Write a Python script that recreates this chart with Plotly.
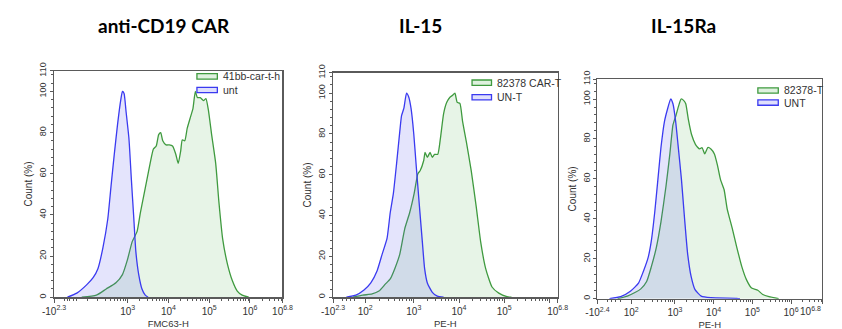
import math
import plotly.graph_objects as go

# The page body keeps its default 8px margin, so the figure is 16px narrower than the
# window and all geometry below is given in window pixels, shifted by that margin.
OFF = 8
W, H = 842 - 2 * OFF, 329

panel_titles = ["anti-CD19 CAR", "IL-15", "IL-15Ra"]
x_titles = ["FMC63-H", "PE-H", "PE-H"]
series_names = [("41bb-car-t-h", "unt"), ("82378 CAR-T", "UN-T"), ("82378-T", "UNT")]

# x in decade units of the display scale, y = Count (%)
car1_x = [1.87, 2.23, 2.47, 2.71, 2.87, 2.99, 3.11, 3.23, 3.31, 3.39, 3.47, 3.55, 3.63, 3.70, 3.76,
          3.81, 3.86, 3.94, 4.02, 4.10, 4.18, 4.24, 4.30, 4.34, 4.40, 4.46, 4.54, 4.60, 4.66, 4.71,
          4.78, 4.86, 4.92, 4.98, 5.06, 5.16, 5.24, 5.33, 5.45, 5.57, 5.69, 5.81, 5.97]
car1_y = [0, 1, 4, 7, 11, 18, 27, 32, 41, 49, 57, 65, 72, 73.5, 79,
          80, 76, 74, 74, 73.5, 69.5, 65, 71, 76.5, 76, 82, 87.5, 91.5, 100, 97,
          97, 95.5, 96.5, 91, 79, 65, 46, 28.5, 16, 8, 3, 1, 0]
unt1_x = [1.52, 1.75, 1.99, 2.15, 2.27, 2.39, 2.51, 2.59, 2.67, 2.75, 2.83, 2.87, 2.91, 2.96, 3.03,
          3.09, 3.15, 3.20, 3.27, 3.35, 3.43, 3.50]
unt1_y = [0, 2, 6, 9.5, 14, 24, 38, 54, 69.5, 84, 96, 100, 99, 90, 77, 57, 38, 22, 11, 4, 1, 0]

car2_x = [1.65, 1.87, 2.08, 2.23, 2.37, 2.48, 2.58, 2.69, 2.80, 2.91, 3.01, 3.09, 3.14, 3.22, 3.25,
          3.30, 3.36, 3.41, 3.46, 3.53, 3.59, 3.66, 3.73, 3.80, 3.86, 3.91, 3.96, 4.02, 4.08, 4.16,
          4.27, 4.38, 4.48, 4.59, 4.73, 4.88, 5.06, 5.16]
car2_y = [0, 1, 1.6, 3, 6.4, 9, 14, 21, 33.5, 41.5, 51, 60.5, 62, 67, 71,
          68.5, 71, 68.5, 70, 70, 78, 90, 95.5, 98, 99, 100, 95.5, 95, 86, 76.5,
          62, 44.5, 27, 14, 5, 2, 0.3, 0]
unt2_x = [1.51, 1.72, 1.90, 2.05, 2.19, 2.30, 2.41, 2.48, 2.55, 2.62, 2.69, 2.73, 2.78, 2.84, 2.89,
          2.94, 3.00, 3.05, 3.12, 3.19, 3.24, 3.30, 3.41, 3.52, 3.66]
unt2_y = [0, 1, 3.5, 7, 13, 21, 29, 41.5, 51, 65.5, 81, 89, 92.5, 100, 98,
          92.5, 80, 65.5, 46, 27, 14, 7, 2.4, 0.5, 0]

car3_x = [1.52, 1.77, 1.98, 2.12, 2.27, 2.39, 2.52, 2.64, 2.77, 2.87, 2.95, 3.03, 3.10, 3.16, 3.23,
          3.28, 3.35, 3.43, 3.53, 3.58, 3.64, 3.70, 3.77, 3.85, 3.93, 4.02, 4.10, 4.18, 4.27, 4.35,
          4.48, 4.60, 4.73, 4.85, 4.98, 5.14, 5.27, 5.43, 5.68]
car3_y = [0, 1.3, 3.2, 4.9, 8.6, 15.9, 25.6, 38.5, 56.3, 72.5, 87, 92, 96.8, 100, 99.2,
          97.6, 89.5, 82.2, 77.3, 76, 75, 75.7, 72.5, 75.7, 75, 72.5, 66.8, 59.5, 54.7, 45,
          35.3, 25.6, 15.9, 9.4, 5.3, 4.2, 2.1, 1, 0]
unt3_x = [1.31, 1.60, 1.85, 2.06, 2.18, 2.31, 2.39, 2.48, 2.56, 2.64, 2.73, 2.81, 2.89, 2.95, 3.02,
          3.08, 3.17, 3.25, 3.33, 3.42, 3.52, 3.68, 3.93, 4.60, 4.68]
unt3_y = [0, 1, 3.7, 7.8, 13.4, 20.7, 28.8, 43.4, 59.5, 75.7, 88.7, 95, 100, 97.6, 88.7,
          77.3, 59.5, 40, 22.3, 11, 4.5, 1.3, 0.5, 0.2, 0]

x_tickvals = [[1.19, 3, 4, 5, 6, 6.8],
              [1.215, 1.925, 3, 4, 5, 6, 6.18],
              [1.0, 1.87, 3, 4, 5, 6, 6.8]]
x_ticktext = [["-10<sup>2.3</sup>", "10<sup>3</sup>", "10<sup>4</sup>", "10<sup>5</sup>", "10<sup>6</sup>", "10<sup>6.8</sup>"],
              ["-10<sup>2.3</sup>", "10<sup>2</sup>", "10<sup>3</sup>", "10<sup>4</sup>", "10<sup>5</sup>", "", "10<sup>6.8</sup>"],
              ["-10<sup>2.4</sup>", "10<sup>2</sup>", "10<sup>3</sup>", "10<sup>4</sup>", "10<sup>5</sup>", "10<sup>6</sup>", ""]]
x_ranges = [[1.19, 6.8], [1.215, 6.18], [1.0, 6.8]]
y_tickvals = [0, 20, 40, 60, 80, 100, 110]

# ---------------- geometry (window pixels) ----------------
boxes = [(43, 278, 63.5, 297), (330, 561, 65.5, 297), (602, 833, 72, 298.5)]  # x0, x1, ytop, ybottom
title_x = [156, 420, 691]
legend_pos = [(190, 211, 66.5, 80.5, 215), (473, 493, 73, 88, 497), (767, 788, 81, 93.5, 792)]

GREEN = "#3f9a3f"
BLUE = "#3a3af0"
GREEN_FILL = "rgba(110,190,110,0.17)"
BLUE_FILL = "rgba(95,95,240,0.17)"
TXT = "#333333"
AX = "#5a5a5a"
FONT = "Liberation Sans, Arial, sans-serif"

def px(x):
    return (x - OFF) / W

def py(y):
    return 1 - (y - OFF) / H

def minor_vals(panel):
    lo, hi = x_ranges[panel]
    vals = []
    if panel == 0:
        vals += [1.45, 1.52, 1.58, 1.66, 1.75, 2.0, 2.25, 2.45, 2.58, 2.68, 2.76, 2.83, 2.9, 2.95]
    else:
        u2 = x_tickvals[panel][1]
        vals += [lo + (u2 - lo) * f for f in (0.3, 0.42, 0.55, 0.68)]
        for k in range(2, 10):
            vals.append(u2 + (3 - u2) * math.log10(k))
    for d in range(3, 7):
        for k in range(2, 10):
            v = d + math.log10(k)
            if v < hi:
                vals.append(v)
    return vals

fig = go.Figure()
all_data = [(car1_x, car1_y, unt1_x, unt1_y), (car2_x, car2_y, unt2_x, unt2_y), (car3_x, car3_y, unt3_x, unt3_y)]

for i, (cx, cy, ux, uy) in enumerate(all_data):
    xa = "x" if i == 0 else f"x{i+1}"
    ya = "y" if i == 0 else f"y{i+1}"
    fig.add_trace(go.Scatter(x=cx, y=cy, xaxis=xa, yaxis=ya, mode="lines", fill="tozeroy",
                             fillcolor=GREEN_FILL, line=dict(color=GREEN, width=1.3, shape="spline", smoothing=0.5),
                             name=series_names[i][0], showlegend=False))
    fig.add_trace(go.Scatter(x=ux, y=uy, xaxis=xa, yaxis=ya, mode="lines", fill="tozeroy",
                             fillcolor=BLUE_FILL, line=dict(color=BLUE, width=1.3, shape="spline", smoothing=0.5),
                             name=series_names[i][1], showlegend=False))

layout = dict(width=W, height=H, margin=dict(l=0, r=0, t=0, b=0), paper_bgcolor="white",
              plot_bgcolor="white", showlegend=False)

shapes, annotations = [], []
for i, (x0, x1, yt, yb) in enumerate(boxes):
    suf = "" if i == 0 else str(i + 1)
    layout["xaxis" + suf] = dict(
        domain=[px(x0), px(x1)], anchor="y" + suf, range=x_ranges[i], showgrid=False, zeroline=False,
        showline=True, mirror=True, linecolor=AX, linewidth=1.3,
        tickmode="array", tickvals=x_tickvals[i], ticktext=x_ticktext[i],
        ticks="outside", ticklen=4, tickcolor=AX, tickwidth=1,
        tickfont=dict(family=FONT, size=10, color=TXT),
        minor=dict(tickvals=minor_vals(i), ticks="outside", ticklen=2, tickcolor=AX, tickwidth=1),
        title=dict(text=x_titles[i], font=dict(family=FONT, size=9.5, color=TXT), standoff=4),
    )
    layout["yaxis" + suf] = dict(
        domain=[py(yb), py(yt)], anchor="x" + suf, range=[0, 110], showgrid=False, zeroline=False,
        showline=True, mirror=True, linecolor=AX, linewidth=1.3,
        tickmode="array", tickvals=y_tickvals, tickangle=-90,
        ticks="outside", ticklen=3, tickcolor=AX, tickwidth=1,
        tickfont=dict(family=FONT, size=9, color=TXT),
        minor=dict(dtick=4, tick0=0, ticks="outside", ticklen=2, tickcolor=AX, tickwidth=1),
        title=dict(text="Count (%)", font=dict(family=FONT, size=10, color=TXT), standoff=3),
    )
    annotations.append(dict(text=f"<b>{panel_titles[i]}</b>", x=px(title_x[i]), y=py(17), xref="paper", yref="paper",
                            showarrow=False, xanchor="center", yanchor="middle",
                            font=dict(family="Lato, Carlito, sans-serif", size=19, color="black")))
    lx0, lx1, ly1, ly2, ltx = legend_pos[i]
    for ly, lc, lf, nm in ((ly1, GREEN, "rgba(110,190,110,0.22)", series_names[i][0]),
                           (ly2, BLUE, "rgba(95,95,240,0.2)", series_names[i][1])):
        shapes.append(dict(type="rect", xref="paper", yref="paper", x0=px(lx0), x1=px(lx1),
                           y0=py(ly + 5.5), y1=py(ly), line=dict(color=lc, width=1.3), fillcolor=lf))
        annotations.append(dict(text=nm, x=px(ltx), y=py(ly + 2.8), xref="paper", yref="paper", showarrow=False,
                                xanchor="left", yanchor="middle", font=dict(family=FONT, size=10.5, color=TXT)))

# rightmost tick label of the third panel, right-aligned so it stays inside the page
annotations.append(dict(text="10<sup>6.8</sup>", x=px(834), y=py(298.5), xref="paper", yref="paper",
                        showarrow=False, xanchor="right", yanchor="top", yshift=-4,
                        font=dict(family=FONT, size=10, color=TXT)))

layout["shapes"] = shapes
layout["annotations"] = annotations
fig.update_layout(**layout)

fig.write_html("out.html", config={"staticPlot": True, "displayModeBar": False})
